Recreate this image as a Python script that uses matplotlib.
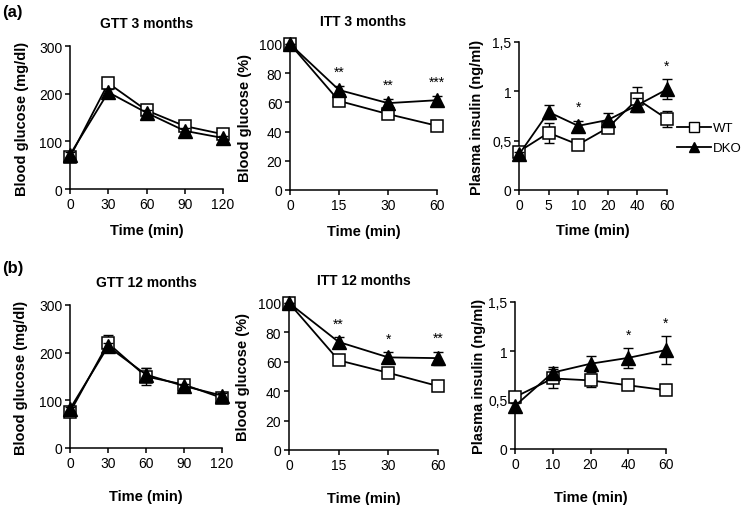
import matplotlib
matplotlib.use("Agg")
import matplotlib.pyplot as plt
from matplotlib.lines import Line2D

plt.rcParams['font.family'] = ['Liberation Sans', 'DejaVu Sans']

# ---- data ----
gtt_x = [0, 30, 60, 90, 120]
gtt3_wt = [67, 222, 165, 132, 115]
gtt3_wt_err = [5, 8, 6, 5, 5]
gtt3_dko = [72, 203, 160, 122, 107]
gtt3_dko_err = [5, 6, 5, 5, 4]

gtt12_wt = [75, 220, 150, 133, 105]
gtt12_wt_err = [5, 17, 17, 6, 5]
gtt12_dko = [82, 213, 154, 130, 110]
gtt12_dko_err = [5, 8, 13, 5, 6]

itt_labels = ['0', '15', '30', '60']
itt3_wt = [100, 61, 52, 44]
itt3_wt_err = [0, 2, 2, 2]
itt3_dko = [100, 68.5, 59.5, 61.5]
itt3_dko_err = [0, 3, 3, 3]
itt3_stars = ['', '**', '**', '***']

itt12_wt = [100, 61, 52.5, 43.5]
itt12_wt_err = [0, 2, 2, 2]
itt12_dko = [100, 73.5, 63, 62.5]
itt12_dko_err = [0, 3.3, 3.4, 4.5]
itt12_stars = ['', '**', '*', '**']

ins3_labels = ['0', '5', '10', '20', '40', '60']
ins3_wt = [0.39, 0.58, 0.46, 0.63, 0.92, 0.72]
ins3_wt_err = [0.04, 0.10, 0.03, 0.03, 0.12, 0.08]
ins3_dko = [0.36, 0.79, 0.65, 0.71, 0.86, 1.02]
ins3_dko_err = [0.03, 0.07, 0.05, 0.07, 0.07, 0.10]
ins3_stars = ['', '', '*', '', '', '*']

ins12_labels = ['0', '10', '20', '40', '60']
ins12_wt = [0.53, 0.72, 0.70, 0.65, 0.60]
ins12_wt_err = [0.03, 0.10, 0.07, 0.03, 0.03]
ins12_dko = [0.44, 0.78, 0.87, 0.93, 1.01]
ins12_dko_err = [0.03, 0.06, 0.08, 0.10, 0.14]
ins12_stars = ['', '', '', '*', '*']

W, H = 747, 506
fig = plt.figure(figsize=(W / 100, H / 100), dpi=100)


def px_axes(x0, x1, ytop, ybot):
    return fig.add_axes([x0 / W, 1 - ybot / H, (x1 - x0) / W, (ybot - ytop) / H])


def style(ax):
    for s in ['top', 'right']:
        ax.spines[s].set_visible(False)
    for s in ['left', 'bottom']:
        ax.spines[s].set_linewidth(1.1)
    ax.tick_params(direction='out', length=3.5, width=1.1, labelsize=10, pad=2)


def draw(ax, x, wt, wt_err, dko, dko_err, stars=None):
    ax.errorbar(x, wt, yerr=wt_err, fmt='none', ecolor='black', elinewidth=1,
                capsize=3.5, capthick=1, zorder=2, clip_on=False)
    ax.plot(x, wt, color='black', lw=1.3, marker='s', ms=9, mfc='white', mec='black',
            mew=1.1, zorder=3, clip_on=False)
    ax.errorbar(x, dko, yerr=dko_err, fmt='none', ecolor='black', elinewidth=1,
                capsize=3.5, capthick=1, zorder=4, clip_on=False)
    ax.plot(x, dko, color='black', lw=1.3, marker='^', ms=9.5, mfc='black', mec='black',
            zorder=5, clip_on=False)
    if stars:
        for xi, s, d, e in zip(x, stars, dko, dko_err):
            if s:
                ax.annotate(s, (xi, d + e), xytext=(0, 7), textcoords='offset points',
                            ha='center', va='baseline', fontsize=10)


def finish(ax, title, ylabel, ylx, xlab_y):
    style(ax)
    if title:
        ax.set_title(title, fontsize=10, fontweight='bold', pad=14)
    ax.set_ylabel(ylabel, fontsize=10.5, fontweight='bold')
    ax.yaxis.set_label_coords(ylx, 0.5)
    ax.set_xlabel('Time (min)', fontsize=10.5, fontweight='bold')
    ax.xaxis.set_label_coords(0.5, xlab_y)


# ---- row (a) ----
ax = px_axes(70, 223, 47, 190)
draw(ax, gtt_x, gtt3_wt, gtt3_wt_err, gtt3_dko, gtt3_dko_err)
ax.set_xlim(0, 120)
ax.set_ylim(0, 300)
ax.set_xticks(gtt_x)
ax.set_yticks([0, 100, 200, 300])
finish(ax, 'GTT 3 months', 'Blood glucose (mg/dl)', -0.27, -0.235)

ax = px_axes(290, 437, 45, 191)
xi = list(range(len(itt_labels)))
draw(ax, xi, itt3_wt, itt3_wt_err, itt3_dko, itt3_dko_err, itt3_stars)
ax.set_xlim(0, len(itt_labels) - 1)
ax.set_ylim(0, 100)
ax.set_xticks(xi, itt_labels)
ax.set_yticks(range(0, 101, 20))
finish(ax, 'ITT 3 months', 'Blood glucose (%)', -0.26, -0.23)

ax = px_axes(519, 667, 43, 191)
xi = list(range(len(ins3_labels)))
draw(ax, xi, ins3_wt, ins3_wt_err, ins3_dko, ins3_dko_err, ins3_stars)
ax.set_xlim(0, len(ins3_labels) - 1)
ax.set_ylim(0, 1.5)
ax.set_xticks(xi, ins3_labels)
ax.set_yticks([0, 0.5, 1, 1.5], ['0', '0,5', '1', '1,5'])
finish(ax, None, 'Plasma insulin (ng/ml)', -0.235, -0.22)

handles = [Line2D([], [], color='black', lw=1.3, marker='s', ms=7, mfc='white', mec='black'),
           Line2D([], [], color='black', lw=1.3, marker='^', ms=7, mfc='black', mec='black')]
fig.legend(handles, ['WT', 'DKO'], loc='upper left', bbox_to_anchor=(677 / W, 1 - 123 / H),
           frameon=False, fontsize=9.5, handlelength=2.6, handletextpad=0.15,
           labelspacing=0.6, borderpad=0, borderaxespad=0)

# ---- row (b) ----
ax = px_axes(70, 222, 306, 449)
draw(ax, gtt_x, gtt12_wt, gtt12_wt_err, gtt12_dko, gtt12_dko_err)
ax.set_xlim(0, 120)
ax.set_ylim(0, 300)
ax.set_xticks(gtt_x)
ax.set_yticks([0, 100, 200, 300])
finish(ax, 'GTT 12 months', 'Blood glucose (mg/dl)', -0.275, -0.285)

ax = px_axes(289, 438, 304, 451)
xi = list(range(len(itt_labels)))
draw(ax, xi, itt12_wt, itt12_wt_err, itt12_dko, itt12_dko_err, itt12_stars)
ax.set_xlim(0, len(itt_labels) - 1)
ax.set_ylim(0, 100)
ax.set_xticks(xi, itt_labels)
ax.set_yticks(range(0, 101, 20))
finish(ax, 'ITT 12 months', 'Blood glucose (%)', -0.26, -0.28)

ax = px_axes(515, 666, 303, 450)
xi = list(range(len(ins12_labels)))
draw(ax, xi, ins12_wt, ins12_wt_err, ins12_dko, ins12_dko_err, ins12_stars)
ax.set_xlim(0, len(ins12_labels) - 1)
ax.set_ylim(0, 1.5)
ax.set_xticks(xi, ins12_labels)
ax.set_yticks([0, 0.5, 1, 1.5], ['0', '0,5', '1', '1,5'])
finish(ax, None, 'Plasma insulin (ng/ml)', -0.19, -0.28)

fig.text(2 / W, 1 - 13 / H, '(a)', fontsize=12, fontweight='bold', va='center')
fig.text(2 / W, 1 - 268 / H, '(b)', fontsize=12, fontweight='bold', va='center')

fig.savefig('out.png', dpi=100)
